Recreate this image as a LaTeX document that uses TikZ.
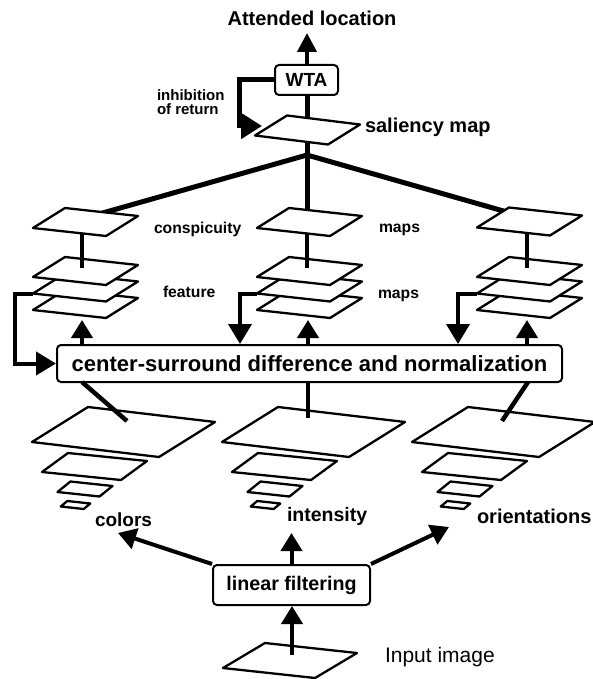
\documentclass[tikz,border=0pt]{standalone}
\usepackage{fontspec}
\setmainfont{Liberation Sans}
\usetikzlibrary{arrows.meta,calc}
\newcommand{\fsz}[1]{\fontsize{#1}{#1}\selectfont\bfseries}
\newcommand{\drawmap}[7]{%
  \coordinate (#1) at (#2,#3);
  \filldraw[mapline] ({#2-(#4)/2-(#6)/2},{#3-(#5)/2-(#7)/2}) -- ++(#6,#7) -- ++(#4,#5) -- ++({-(#6)},{-(#7)}) -- cycle;}
\begin{document}
\begin{tikzpicture}[x=1pt,y=-1pt,
  mapline/.style={draw=black,fill=white,line width=2.3pt,line join=round},
  thickln/.style={line width=5pt},
  conn/.style={line width=4.5pt},
  arr/.style={line width=4pt,-{Triangle[length=18pt,width=21pt]}},
  box/.style={draw=black,fill=white,line width=2pt,rounded corners=4pt,inner sep=0pt},
  lbl/.style={inner sep=0pt,outer sep=0pt}]
\useasboundingbox[fill=white] (0,0) rectangle (592,679);

% ---- feature maps (bottom first)
\foreach \cx/\nm in {85.5/L,309.5/M,529.5/R}{
  \drawmap{f\nm3}{\cx}{304}{73}{8}{32}{-20}
  \drawmap{f\nm2}{\cx}{287.5}{73}{8}{32}{-20}
  \drawmap{f\nm1}{\cx}{271}{73}{8}{32}{-20}
}
% connector coordinates
\coordinate (cL) at (82,222);   \coordinate (cLf) at (82,268);
\coordinate (cM) at (307,222);  \coordinate (cMf) at (307,268);
\coordinate (cR) at (527,222);  \coordinate (cRf) at (527,268);
\draw[conn] (cL) -- (cLf);
\draw[conn] (cM) -- (cMf);
\draw[conn] (cR) -- (cRf);

% ---- WTA and lines from saliency
\node[box,minimum width=63pt,minimum height=30pt,font=\fsz{19}] (wta) at (306.5,80) {WTA};
\coordinate (J) at (307,155);
\coordinate (cLt) at (85,218);
\coordinate (cRt) at (528,218);
\draw[thickln] (wta.south -| J) -- (cM);
\draw[thickln] (J) -- (cLt);
\draw[thickln] (J) -- (cRt);

% ---- conspicuity maps
\drawmap{conL}{85.5}{222}{73}{8}{32}{-20}
\drawmap{conM}{309.5}{222}{73}{8}{32}{-20}
\drawmap{conR}{529.5}{221.5}{73}{8}{32}{-20}

% ---- saliency map
\drawmap{salmap}{307.5}{130}{73}{9}{32}{-20}

% ---- attended location
\node[lbl,font=\fsz{20},anchor=base] (att) at (312,26) {Attended location};
\coordinate (attTip) at (307,33);
\draw[arr,-{Triangle[length=19pt,width=19pt]}] (wta.north -| attTip) -- (attTip);

% ---- inhibition of return
\node[lbl,font=\fsz{15},align=left,anchor=west] (ior) at (157,102) {inhibition\\[-0.5pt]of return};
\coordinate (iorA) at (239,80);
\coordinate (iorB) at (239,126);
\coordinate (iorTip) at (262,126);
\draw[line width=5pt,-{Triangle[length=21pt,width=25pt]}] (wta.west) -- (iorA) -- (iorB) -- (iorTip);

\node[lbl,font=\fsz{20},anchor=base west] (salL) at (365,133) {saliency map};

% ---- labels conspicuity / feature maps
\node[lbl,font=\fsz{15.7},anchor=base west] (consp) at (154,233) {conspicuity};
\node[lbl,font=\fsz{15.7},anchor=base west] (maps1) at (379,232) {maps};
\node[lbl,font=\fsz{15.7},anchor=base west] (feat) at (163,297) {feature};
\node[lbl,font=\fsz{15.7},anchor=base west] (maps2) at (378,298) {maps};

% ---- center-surround box
\node[box,minimum width=505pt,minimum height=37pt,font=\fsz{22}] (csd) at (309.5,363.5) {center-surround difference and normalization};

% up arrows
\coordinate (upL) at (82,320);
\coordinate (upM) at (308,320);
\coordinate (upR) at (527,320);
\draw[arr] (csd.north -| upL) -- (upL);
\draw[arr] (csd.north -| upM) -- (upM);
\draw[arr] (csd.north -| upR) -- (upR);

% feedback arrows
\coordinate (fbL) at (33,293.5);  \coordinate (fbLa) at (15,293.5);
\coordinate (fbM) at (257,293.5); \coordinate (fbMa) at (240,293.5);
\coordinate (fbR) at (477,293.5); \coordinate (fbRa) at (458,293.5);
\draw[line width=4pt,-{Triangle[length=20pt,width=23pt]}] (fbL) -- (fbLa) |- (csd.west);
\draw[line width=4pt,-{Triangle[length=20pt,width=23pt]}] (fbM) -- (fbMa) -- (fbMa |- csd.north);
\draw[line width=4pt,-{Triangle[length=20pt,width=23pt]}] (fbR) -- (fbRa) -- (fbRa |- csd.north);

% ---- pyramids
\foreach \dx in {0,190,380}{
  \drawmap{pa\dx}{123.5+\dx}{432}{127}{15}{56}{-35}
  \drawmap{pb\dx}{94.5+\dx}{466.5}{79}{8}{26}{-19}
  \drawmap{pc\dx}{85+\dx}{489}{42}{4.5}{13}{-10.5}
  \drawmap{pd\dx}{75.5+\dx}{505}{23}{2.5}{6.5}{-5.5}
}
\coordinate (dL) at (82,382);  \coordinate (dLe) at (127,421);
\coordinate (dM) at (308,382); \coordinate (dMe) at (308,418);
\coordinate (dR) at (528,382); \coordinate (dRe) at (502,421);
\draw[conn] (dL) -- (dLe);
\draw[conn] (dM) -- (dMe);
\draw[conn] (dR) -- (dRe);

\node[lbl,font=\fsz{19},anchor=base west] (colors) at (95,526) {colors};
\node[lbl,font=\fsz{19.5},anchor=base west] (inten) at (287,521) {intensity};
\node[lbl,font=\fsz{20},anchor=base west] (orient) at (477,523) {orientations};

% ---- linear filtering
\node[box,minimum width=157pt,minimum height=40pt,font=\fsz{19.7}] (lf) at (291.5,585) {linear filtering};
\coordinate (tC) at (118,533);
\coordinate (tI) at (291.5,533);
\coordinate (tO) at (449,527);
\draw[arr] (lf.north west) -- (tC);
\draw[arr] (lf.north) -- (tI);
\draw[arr] (lf.north east) -- (tO);

% ---- input image
\drawmap{inmap}{290}{660.5}{92}{10}{42}{-25}
\coordinate (inS) at (292,655);
\draw[arr] (inS) -- (lf.south -| inS);
\node[lbl,font=\fontsize{21}{21}\selectfont,anchor=base west] (inlbl) at (385,662) {Input image};
\end{tikzpicture}
\end{document}
